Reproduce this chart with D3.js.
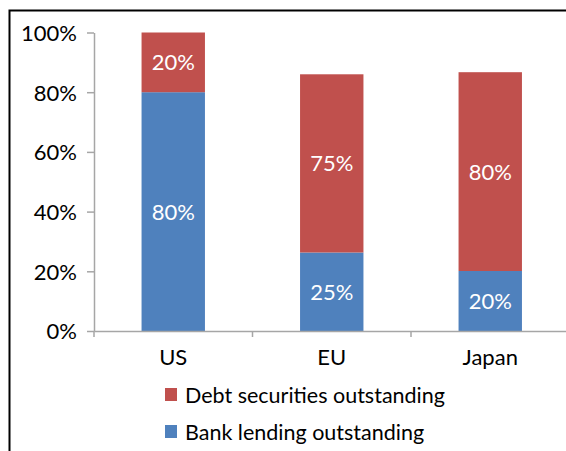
<!DOCTYPE html>
<html>
<head>
<meta charset="utf-8">
<script src="https://cdn.jsdelivr.net/npm/d3@7"></script>
<style>
    html, body { margin: 0; padding: 0; background: #fff; }
    svg { display: block; font-family: Lato, "Open Sans", sans-serif; }
</style>
</head>
<body>
<div id="chart"></div>
<script>
// values
const regions = ["US", "EU", "Japan"];
const bankLending = [80, 26.3, 20.1];     // bar heights, % of scale
const debtSecurities = [20, 59.7, 66.6];
const bankLabels = ["80%", "25%", "20%"];  // labels as printed on bars
const debtLabels = ["20%", "75%", "80%"];
const yTicks = [0, 20, 40, 60, 80, 100];
const seriesNames = ["Debt securities outstanding", "Bank lending outstanding"];

(function () {
    const red = "#c0504d";
    const blue = "#4f81bd";
    const axisColor = "#a6a6a6";

    const width = 566, height = 451;
    const plotLeft = 94, plotRight = 569.5, plotTop = 32.5, plotBottom = 331;

    const svg = d3.select("#chart").append("svg")
        .attr("width", width)
        .attr("height", height);

    // outer frame (right/bottom edges run off the picture)
    svg.append("path")
        .attr("d", `M9.5,${height + 5}V10.5H${width + 5}`)
        .attr("fill", "none")
        .attr("stroke", "#000")
        .attr("stroke-width", 2);

    const x = d3.scaleBand()
        .domain(regions)
        .range([plotLeft, plotRight])
        .paddingInner(0.6)
        .paddingOuter(0.3);

    const y = d3.scaleLinear()
        .domain([0, 100])
        .range([plotBottom, plotTop]);

    const rows = regions.map((r, i) => ({
        region: r,
        bank: bankLending[i],
        debt: debtSecurities[i],
        bankLabel: bankLabels[i],
        debtLabel: debtLabels[i]
    }));

    const stack = d3.stack().keys(["bank", "debt"])(rows);
    const colors = { bank: blue, debt: red };
    const labelKey = { bank: "bankLabel", debt: "debtLabel" };

    const layers = svg.selectAll("g.layer")
        .data(stack)
        .enter()
        .append("g")
        .attr("class", "layer")
        .attr("fill", d => colors[d.key]);

    layers.selectAll("rect")
        .data(d => d)
        .enter()
        .append("rect")
        .attr("x", d => x(d.data.region))
        .attr("y", d => y(d[1]))
        .attr("width", x.bandwidth())
        .attr("height", d => y(d[0]) - y(d[1]));

    layers.each(function (layer) {
        d3.select(this).selectAll("text")
            .data(layer)
            .enter()
            .append("text")
            .attr("x", d => x(d.data.region) + x.bandwidth() / 2)
            .attr("y", d => (y(d[0]) + y(d[1])) / 2)
            .attr("dy", "0.36em")
            .attr("text-anchor", "middle")
            .attr("fill", "#fff")
            .attr("font-size", 22)
            .text(d => d.data[labelKey[layer.key]]);
    });

    // y axis
    const yAxis = svg.append("g")
        .attr("transform", `translate(${plotLeft},0)`)
        .call(d3.axisLeft(y).tickValues(yTicks).tickFormat(d => d + "%")
            .tickSize(7).tickPadding(10).tickSizeOuter(0));

    // x axis, ticks sit between categories
    const xAxis = svg.append("g")
        .attr("transform", `translate(0,${plotBottom})`)
        .call(d3.axisBottom(x).tickSize(0).tickPadding(18));

    xAxis.selectAll(".catTick")
        .data(regions)
        .enter()
        .append("line")
        .attr("class", "catTick")
        .attr("x1", (d, i) => plotLeft + x.step() * i)
        .attr("x2", (d, i) => plotLeft + x.step() * i)
        .attr("y1", 0)
        .attr("y2", 6);

    [yAxis, xAxis].forEach(ax => {
        ax.select(".domain").attr("stroke", axisColor).attr("stroke-width", 1.5);
        ax.selectAll("line").attr("stroke", axisColor).attr("stroke-width", 1.5);
        ax.selectAll("text")
            .attr("fill", "#000")
            .attr("font-size", 22)
            .attr("font-family", "Lato, 'Open Sans', sans-serif");
    });
    yAxis.selectAll("text").attr("dy", "0.36em");

    // legend
    const legend = svg.append("g")
        .attr("transform", "translate(165,388)");

    const legendColors = [red, blue];
    const items = legend.selectAll("g")
        .data(seriesNames)
        .enter()
        .append("g")
        .attr("transform", (d, i) => `translate(0,${i * 37})`);

    items.append("rect")
        .attr("width", 12)
        .attr("height", 13)
        .attr("fill", (d, i) => legendColors[i]);

    items.append("text")
        .attr("x", 20)
        .attr("y", 7)
        .attr("dy", "0.36em")
        .attr("font-size", 21.5)
        .attr("fill", "#000")
        .text(d => d);
})();
</script>
</body>
</html>
